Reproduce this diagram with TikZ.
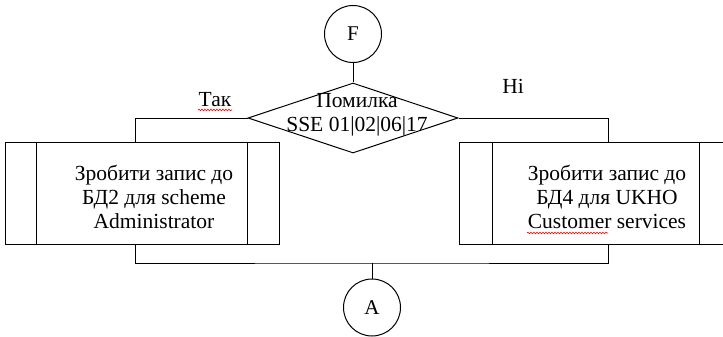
\documentclass[tikz,border=0pt]{standalone}
\usepackage{fontspec}
\setmainfont{Liberation Serif}
\usetikzlibrary{shapes.geometric,decorations.pathmorphing}
\begin{document}
\begin{tikzpicture}[x=1pt,y=-1pt,line width=1pt,
  conn/.style={draw,line width=1pt},
  term/.style={draw,circle,minimum size=57pt,inner sep=0pt,font=\fontsize{21}{24}\selectfont},
  decis/.style={draw,diamond,minimum width=210pt,minimum height=70pt,inner sep=0pt},
  procbox/.style={draw,rectangle,minimum width=274pt,minimum height=102pt,inner sep=0pt},
  txt/.style={align=center,font=\fontsize{21.5}{24}\selectfont,inner sep=0pt},
  lbl/.style={font=\fontsize{21.5}{24}\selectfont,inner sep=0pt},
  squig/.style={draw=red,line width=0.6pt,decorate,decoration={snake,amplitude=0.8pt,segment length=3pt}}]
\clip (0,0) rectangle (723,337);
\useasboundingbox (0,0) rectangle (723,337);
% terminators
\node[term] (F) at (353,34) {F};
\node[term] (A) at (372,307.5) {A};
% decision
\node[decis] (D) at (353,118) {};
\node[txt] (Dt) at (357,114.5) {Помилка\\SSE 01|02|06|17};
% process boxes
\node[procbox] (L) at (142,193) {};
\draw ([xshift=32pt]L.north west) -- ([xshift=32pt]L.south west);
\draw ([xshift=-32pt]L.north east) -- ([xshift=-32pt]L.south east);
\node[txt] (Lt) at (154,197) {Зробити запис до\\БД2 для scheme\\Administrator};
\node[procbox] (R) at (596,193) {};
\draw ([xshift=34pt]R.north west) -- ([xshift=34pt]R.south west);
\draw ([xshift=-34pt]R.north east) -- ([xshift=-34pt]R.south east);
\node[txt] (Rt) at (607,197) {Зробити запис до\\БД4 для UKHO\\Customer services};
% labels
\node[lbl] (yes) at (215,100) {Так};
\node[lbl] (no) at (513,86) {Ні};
\coordinate (yesU1) at (198,110);
\coordinate (yesU2) at (232,110);
\coordinate (cuU1) at (527,233);
\coordinate (cuU2) at (608,233);
\path[squig] (yesU1) -- (yesU2);
\path[squig] (cuU1) -- (cuU2);
% connectors
\coordinate (LT) at (135,142);
\coordinate (RT) at (608,142);
\coordinate (LB) at (135,244);
\coordinate (RB) at (608,244);
\coordinate (J) at (372,263);
\draw[conn] (F) -- (D.north);
\draw[conn] (D.west) -| (LT);
\draw[conn] (D.east) -| (RT);
\draw[conn] (LB) |- (J) -| (RB);
\draw[conn] (J) -- (A.north);
\end{tikzpicture}
\end{document}
